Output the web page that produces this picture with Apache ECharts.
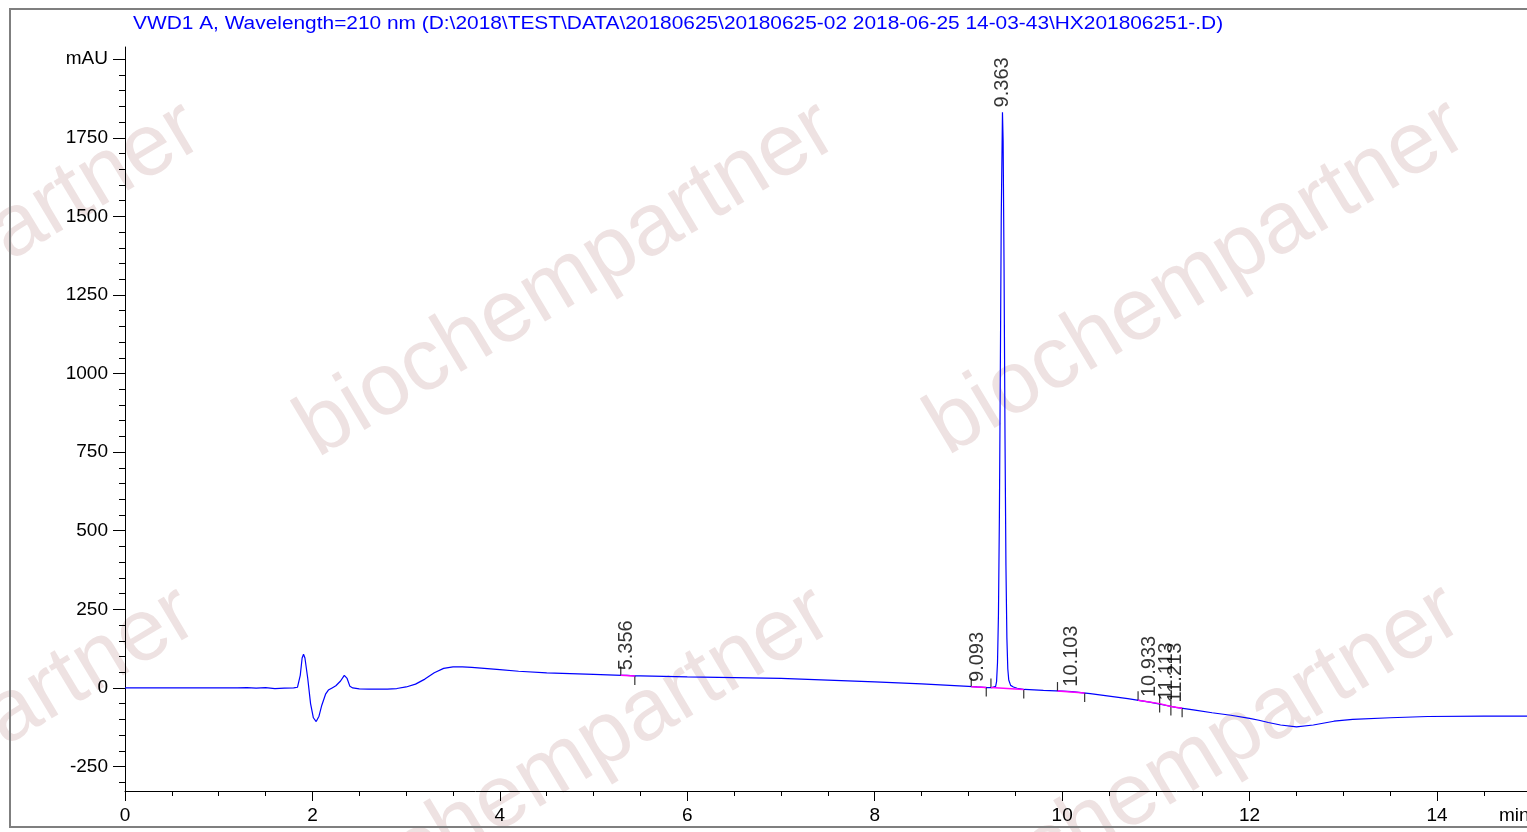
<!DOCTYPE html>
<html>
<head>
    <meta charset="utf-8">
    <title>VWD1 A, Wavelength=210 nm</title>
    <script src="https://cdn.jsdelivr.net/npm/echarts@6.0.0/dist/echarts.min.js"></script>
    <style>
        * {
            margin: 0;
            padding: 0
        }

        html, body {
            width: 100%;
            height: 100%;
            background: #fff;
        }

        #main {
            width: 1527px;
            height: 832px;
        }
    </style>
</head>
<body>
<div id="main"></div>
<script type="text/javascript">
    /*-------------------- 色谱数据 (min / mAU) --------------------*/
    var traceTime = [
        0, 0.5, 1.0, 1.2, 1.3, 1.4, 1.5, 1.6, 1.7, 1.8,
        1.84, 1.87, 1.89, 1.905, 1.92, 1.95, 1.98, 2.01, 2.04, 2.07,
        2.1, 2.14, 2.17, 2.21, 2.25, 2.3, 2.34, 2.37, 2.4, 2.43,
        2.5, 2.6, 2.8, 2.9, 3.0, 3.1, 3.2, 3.3, 3.4, 3.5,
        3.6, 3.7, 3.8, 4.0, 4.2, 4.5, 5.0, 5.3, 5.356, 5.44,
        5.5, 6.0, 6.5, 7.0, 7.5, 8.0, 8.5, 9.0, 9.093, 9.2,
        9.25, 9.29, 9.30, 9.31, 9.32, 9.33, 9.34, 9.35, 9.363, 9.37,
        9.38, 9.39, 9.40, 9.41, 9.42, 9.43, 9.45, 9.48, 9.52, 9.6,
        9.8, 10.0, 10.103, 10.3, 10.5, 10.7, 10.933, 11.113, 11.213, 11.4,
        11.6, 11.8, 12.0, 12.1, 12.2, 12.33, 12.5, 12.68, 12.9, 13.1,
        13.5, 13.9, 14.5, 15.0
    ];
    var traceSignal = [
        0, 0, 0, 0, 1, -1, 1, -2, -1, 0,
        2, 40, 95, 107, 95, 30, -50, -95, -107, -90,
        -55, -20, -7, 0, 7, 22, 40, 30, 5, 0,
        -3, -4, -4, -2, 3, 12, 28, 48, 62, 67,
        67, 65, 63, 58, 53, 48, 43, 40, 40, 38,
        38, 35, 33, 30, 25, 19, 13, 5, 3, 1,
        1, 5, 20, 80, 230, 540, 1000, 1500, 1831, 1740,
        1330, 800, 390, 160, 60, 25, 8, 3, -1, -5,
        -8, -10, -12, -18, -26, -34, -45, -56, -62, -70,
        -79, -87, -97, -103, -110, -118, -124, -118, -106, -100,
        -95, -91, -90, -90
    ];

    // 峰保留时间与峰顶信号
    var peakTimes = [5.356, 9.093, 9.363, 10.103, 10.933, 11.113, 11.213];
    var peakApex = [40, 3, 1831, -12, -45, -56, -62];

    // 积分起点 / 终点
    var startTimes = [5.29, 9.03, 9.24, 9.95, 10.81, 11.04, 11.16];
    var startLevels = [40, 4, 1, -10, -39, -50, -59];
    var endTimes = [5.44, 9.19, 9.59, 10.24, 11.04, 11.16, 11.28];
    var endLevels = [38, 1, -5, -16, -50, -59, -65];

    // 坐标轴刻度
    var yLabelValues = [-250, 0, 250, 500, 750, 1000, 1250, 1500, 1750, 2000];
    var xLabelStep = 2;

    var titleText = 'VWD1 A, Wavelength=210 nm (D:\\2018\\TEST\\DATA\\20180625\\20180625-02 2018-06-25 14-03-43\\HX201806251-.D)';
    var font = 'Liberation Sans, Arial, sans-serif';

    /*-------------------- 组装 --------------------*/
    var traceData = traceTime.map(function (t, i) {
        return [t, traceSignal[i]];
    });
    var labelData = peakTimes.map(function (t, i) {
        return [t, peakApex[i]];
    });
    var startData = startTimes.map(function (t, i) {
        return [t, startLevels[i]];
    });
    var endData = endTimes.map(function (t, i) {
        return [t, endLevels[i]];
    });
    var baselineLines = startTimes.map(function (t, i) {
        return [{coord: [t, startLevels[i]]}, {coord: [endTimes[i], endLevels[i]]}];
    });
    // 次刻度 每 50 mAU
    var yMinorValues = [-300];
    yLabelValues.forEach(function (v) {
        for (var k = 1; k < 5; k++) yMinorValues.push(v + k * 50);
    });

    // 水印
    var watermarkCenters = [
        [-68, 280], [567, 280], [1197, 278],
        [-73, 765], [562, 765], [1192, 763]
    ];
    var graphics = watermarkCenters.map(function (c) {
        return {
            type: 'text',
            x: c[0],
            y: c[1],
            rotation: 31 * Math.PI / 180,
            z: 0,
            silent: true,
            style: {
                text: 'biochempartner',
                fill: 'rgba(170, 110, 110, 0.2)',
                font: '88px ' + font,
                align: 'center',
                verticalAlign: 'middle'
            }
        };
    });
    graphics.push({
        type: 'rect',
        z: 1,
        silent: true,
        shape: {x: 10, y: 9, width: 1540, height: 818},
        style: {fill: null, stroke: '#7f7f7f', lineWidth: 2}
    });
    graphics.push({
        type: 'text',
        x: 133,
        y: 15,
        scaleX: 1.16,
        z: 5,
        style: {text: titleText, fill: '#0000ff', font: '18px ' + font}
    });
    graphics.push({
        type: 'text',
        left: 1499,
        top: 806,
        z: 5,
        style: {text: 'min', fill: '#000', font: '19px ' + font}
    });

    var chart = echarts.init(document.getElementById('main'));
    chart.setOption({
        animation: false,
        backgroundColor: '#fff',
        graphic: graphics,
        grid: {
            left: 125,
            top: 47,
            right: 0,
            height: 744
        },
        xAxis: {
            type: 'value',
            min: 0,
            max: 14.96,
            interval: xLabelStep,
            splitLine: {show: false},
            axisLine: {onZero: false, lineStyle: {color: '#000', width: 1}},
            axisTick: {length: 10, lineStyle: {color: '#000'}},
            minorTick: {show: true, splitNumber: 4, length: 5, lineStyle: {color: '#000'}},
            axisLabel: {
                color: '#000',
                fontSize: 19,
                fontFamily: font,
                margin: 15,
                showMaxLabel: false
            }
        },
        yAxis: [
            {
                type: 'value',
                min: -328,
                max: 2039,
                splitLine: {show: false},
                axisLine: {show: true, lineStyle: {color: '#000', width: 1}},
                axisTick: {show: true, length: 12, customValues: yLabelValues, lineStyle: {color: '#000'}},
                axisLabel: {
                    color: '#000',
                    fontSize: 19,
                    fontFamily: font,
                    margin: 17,
                    customValues: yLabelValues,
                    formatter: function (v) {
                        return v === 2000 ? 'mAU' : v;
                    }
                }
            },
            {
                type: 'value',
                min: -328,
                max: 2039,
                position: 'left',
                splitLine: {show: false},
                axisLine: {show: false},
                axisLabel: {show: false},
                axisTick: {show: true, length: 6, customValues: yMinorValues, lineStyle: {color: '#000'}}
            }
        ],
        series: [
            {
                name: 'VWD1 A',
                type: 'line',
                data: traceData,
                showSymbol: false,
                z: 3,
                lineStyle: {color: '#0000ff', width: 1.2},
                markLine: {
                    silent: true,
                    symbol: 'none',
                    label: {show: false},
                    lineStyle: {color: '#ff00ff', width: 1.5, type: 'solid'},
                    data: baselineLines
                }
            },
            {
                name: 'start',
                type: 'scatter',
                data: startData,
                symbol: 'rect',
                symbolSize: [1.2, 9],
                symbolOffset: [0, '-50%'],
                itemStyle: {color: '#000'},
                z: 4
            },
            {
                name: 'end',
                type: 'scatter',
                data: endData,
                symbol: 'rect',
                symbolSize: [1.2, 9],
                symbolOffset: [0, '50%'],
                itemStyle: {color: '#000'},
                z: 4
            },
            {
                name: 'rt',
                type: 'scatter',
                data: labelData,
                symbolSize: 0,
                z: 5,
                label: {
                    show: true,
                    position: 'top',
                    distance: 5,
                    rotate: 90,
                    align: 'left',
                    verticalAlign: 'middle',
                    color: '#000',
                    fontSize: 20,
                    fontFamily: font,
                    formatter: function (p) {
                        return p.value[0].toFixed(3);
                    }
                }
            }
        ]
    });
</script>
</body>
</html>
